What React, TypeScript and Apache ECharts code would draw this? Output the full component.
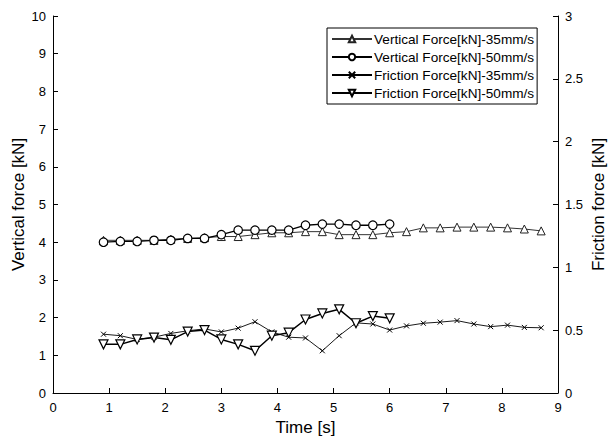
import React, { useEffect, useRef } from "react";
import * as echarts from "echarts";

const time35 = [0.9, 1.2, 1.5, 1.8, 2.1, 2.4, 2.7, 3.0, 3.3, 3.6, 3.9, 4.2, 4.5, 4.8, 5.1, 5.4, 5.7, 6.0, 6.3, 6.6, 6.9, 7.2, 7.5, 7.8, 8.1, 8.4, 8.7];
const time50 = [0.9, 1.2, 1.5, 1.8, 2.1, 2.4, 2.7, 3.0, 3.3, 3.6, 3.9, 4.2, 4.5, 4.8, 5.1, 5.4, 5.7, 6.0];

const vertical35 = [4.05, 4.05, 4.05, 4.05, 4.08, 4.1, 4.12, 4.15, 4.15, 4.2, 4.25, 4.25, 4.28, 4.28, 4.2, 4.2, 4.2, 4.25, 4.28, 4.38, 4.38, 4.4, 4.4, 4.4, 4.38, 4.35, 4.3];
const vertical50 = [4.0, 4.02, 4.02, 4.05, 4.05, 4.1, 4.1, 4.2, 4.32, 4.32, 4.32, 4.32, 4.45, 4.48, 4.48, 4.45, 4.45, 4.48];
const friction35 = [0.468, 0.456, 0.426, 0.444, 0.474, 0.495, 0.51, 0.486, 0.516, 0.567, 0.486, 0.444, 0.438, 0.336, 0.456, 0.558, 0.549, 0.501, 0.534, 0.555, 0.564, 0.576, 0.549, 0.528, 0.54, 0.522, 0.519];
const friction50 = [0.387, 0.387, 0.426, 0.441, 0.423, 0.489, 0.501, 0.426, 0.387, 0.336, 0.456, 0.48, 0.585, 0.633, 0.666, 0.555, 0.612, 0.594];

const leftTicks = [0, 10, 1];
const rightTicks = [0, 3, 0.5];
const xTicks = [0, 9, 1];

const names = [
  "Vertical Force[kN]-35mm/s",
  "Vertical Force[kN]-50mm/s",
  "Friction Force[kN]-35mm/s",
  "Friction Force[kN]-50mm/s",
];

const FONT = "Liberation Sans, Arial, sans-serif";

export default function App() {
  const ref = useRef<HTMLDivElement>(null);
  useEffect(() => {
    const chart = echarts.init(ref.current!, null, { renderer: "svg" });
    const pair = (xs: number[], ys: number[]) => xs.map((x, i) => [x, ys[i]]);
    const axisLine = { show: true, lineStyle: { color: "#000", width: 1 } };
    const axisTick = { show: true, inside: true, length: 5, lineStyle: { color: "#000" } };
    const axisLabel = { color: "#000", fontSize: 13, fontFamily: FONT, margin: 7 };
    const nameTextStyle = { color: "#000", fontSize: 17, fontFamily: FONT };
    chart.setOption({
      animation: false,
      backgroundColor: "#fff",
      grid: { left: 53, right: 56, top: 16, bottom: 46, containLabel: false, outerBoundsMode: "none" },
      legend: {
        left: 327,
        top: 28,
        orient: "vertical",
        itemWidth: 40,
        itemHeight: 8,
        itemGap: 4,
        padding: [4, 3, 4, 4],
        borderColor: "#000",
        borderWidth: 1,
        backgroundColor: "#fff",
        textStyle: { color: "#000", fontSize: 13.6, fontFamily: FONT, padding: [0, 0, 0, -3] },
        data: names,
      },
      xAxis: {
        type: "value",
        min: xTicks[0],
        max: xTicks[1],
        interval: xTicks[2],
        name: "Time [s]",
        nameLocation: "middle",
        nameGap: 26,
        nameMoveOverlap: false,
        nameTextStyle,
        axisLine,
        axisTick,
        axisLabel: { ...axisLabel, margin: 8 },
        splitLine: { show: false },
      },
      yAxis: [
        {
          type: "value",
          min: leftTicks[0],
          max: leftTicks[1],
          interval: leftTicks[2],
          name: "Vertical force [kN]",
          nameLocation: "middle",
          nameGap: 26,
          nameMoveOverlap: false,
          nameTextStyle,
          axisLine,
          axisTick,
          axisLabel,
          splitLine: { show: false },
        },
        {
          type: "value",
          position: "right",
          min: rightTicks[0],
          max: rightTicks[1],
          interval: rightTicks[2],
          name: "Friction force [kN]",
          nameLocation: "middle",
          nameGap: 32,
          nameMoveOverlap: false,
          nameRotate: 90,
          nameTextStyle,
          axisLine,
          axisTick,
          axisLabel,
          splitLine: { show: false },
        },
      ],
      series: [
        {
          name: names[0],
          type: "line",
          yAxisIndex: 0,
          data: pair(time35, vertical35),
          symbol: "triangle",
          symbolSize: 8,
          lineStyle: { color: "#333", width: 1 },
          itemStyle: { color: "#fff", borderColor: "#222", borderWidth: 1 },
        },
        {
          name: names[1],
          type: "line",
          yAxisIndex: 0,
          data: pair(time50, vertical50),
          symbol: "circle",
          symbolSize: 8.5,
          lineStyle: { color: "#000", width: 1.3 },
          itemStyle: { color: "#fff", borderColor: "#000", borderWidth: 1.2 },
        },
        {
          name: names[2],
          type: "line",
          yAxisIndex: 1,
          data: pair(time35, friction35),
          symbol: "path://M0,0L10,10M10,0L0,10",
          symbolSize: 5,
          lineStyle: { color: "#000", width: 0.9 },
          itemStyle: { color: "none", borderColor: "#000", borderWidth: 1 },
        },
        {
          name: names[3],
          type: "line",
          yAxisIndex: 1,
          data: pair(time50, friction50),
          symbol: "triangle",
          symbolRotate: 180,
          symbolSize: 9,
          lineStyle: { color: "#000", width: 1.5 },
          itemStyle: { color: "#fff", borderColor: "#000", borderWidth: 1.2 },
        },
      ],
    });
    return () => chart.dispose();
  }, []);
  return (
    <div
      ref={ref}
      style={{ position: "fixed", left: 0, top: 0, width: 614, height: 439 }}
    />
  );
}
